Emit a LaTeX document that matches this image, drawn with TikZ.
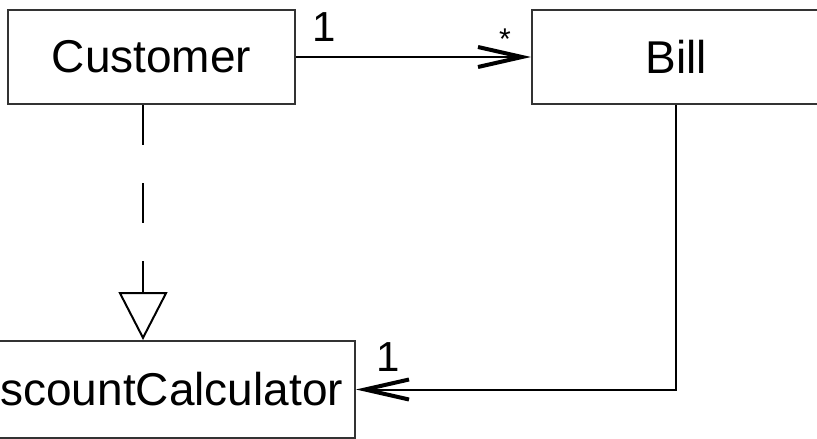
\documentclass[tikz,border=0pt]{standalone}
\usepackage{fontspec}
\setmainfont{Liberation Sans}
\usetikzlibrary{arrows.meta}
\begin{document}
\begin{tikzpicture}[x=1pt,y=-1pt,
  classbox/.style={draw=black!80, line width=2pt, fill=white, inner sep=0pt,
    font=\fontsize{46}{50}\selectfont},
  mult/.style={inner sep=0pt, font=\fontsize{42}{46}\selectfont},
  link/.style={line width=2pt},
  barb/.style={-{Straight Barb[length=44pt,width=20pt,line width=4pt]}},
  realize/.style={dash pattern=on 40pt off 38pt,
    -{Triangle[open,length=48pt,width=49pt,line width=2pt]}}]
  \useasboundingbox (0,0) rectangle (817,439);
  \clip (0,0) rectangle (817,439);
  \fill[white] (0,0) rectangle (817,439);

  % classes
  \node[classbox, minimum width=287pt, minimum height=94pt] (cust) at (151.5,57) {Customer};
  \node[classbox, minimum width=288pt, minimum height=94pt] (bill) at (676,57) {Bill};
  \node[classbox, minimum width=410pt, minimum height=97pt] (calc) at (150,389.5) {DiscountCalculator};

  % associations
  \draw[link, barb] (cust.east) -- (bill.west);
  \draw[link, barb] (bill.south) |- (calc.east);

  % realization
  \draw[link, realize] ([xshift=-8.5pt]cust.south) -- ([xshift=-7pt]calc.north);

  % multiplicities
  \node[mult] (m1) at (324,27) {1};
  \node[inner sep=0pt, font=\fontsize{30}{32}\selectfont] (m2) at (505,39) {*};
  \node[mult] (m3) at (388,357) {1};
\end{tikzpicture}
\end{document}
